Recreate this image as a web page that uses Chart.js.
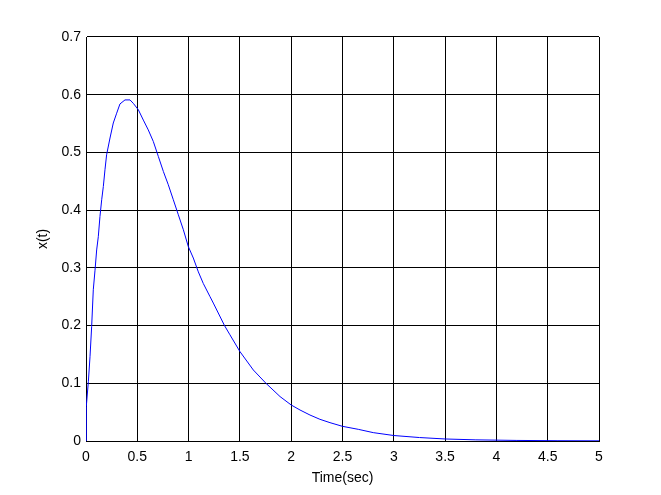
<!DOCTYPE html>
<html>
<head>
<meta charset="utf-8">
<script src="https://cdn.jsdelivr.net/npm/chart.js@4/dist/chart.umd.min.js"></script>
<style>
  html, body { margin: 0; padding: 0; background: #ffffff; }
  #wrap { width: 661px; height: 495px; }
</style>
</head>
<body>
<div id="wrap"><canvas id="c" width="661" height="495"></canvas></div>
<script>
// Data
const timeValues = [0, 0.003, 0.023, 0.039, 0.055, 0.071, 0.088, 0.104, 0.12, 0.136, 0.153, 0.169, 0.185, 0.201,
  0.234, 0.266, 0.299, 0.331, 0.38, 0.429, 0.461, 0.51, 0.559, 0.607, 0.656, 0.705, 0.754, 0.802, 0.851, 0.9,
  0.949, 0.997, 1.046, 1.095, 1.143, 1.209, 1.241, 1.35, 1.403, 1.5, 1.631, 1.754, 1.891, 2.0, 2.086, 2.183, 2.28,
  2.378, 2.5, 2.654, 2.8, 3.0, 3.25, 3.5, 3.8, 4.2, 4.6, 5.0];
const xValues = [0, 0.06, 0.103, 0.146, 0.198, 0.262, 0.296, 0.331, 0.354, 0.389, 0.418, 0.441, 0.47, 0.496,
  0.525, 0.551, 0.568, 0.584, 0.591, 0.591, 0.585, 0.574, 0.556, 0.539, 0.519, 0.493, 0.467, 0.444, 0.418, 0.392,
  0.366, 0.337, 0.317, 0.293, 0.273, 0.25, 0.239, 0.2, 0.184, 0.155, 0.123, 0.1, 0.077, 0.0624, 0.0537, 0.045, 0.0376,
  0.0318, 0.0254, 0.0202, 0.0145, 0.0095, 0.006, 0.0035, 0.002, 0.001, 0.0005, 0.0003];
const xTickLabels = ['0', '0.5', '1', '1.5', '2', '2.5', '3', '3.5', '4', '4.5', '5'];
const yTickLabels = ['0', '0.1', '0.2', '0.3', '0.4', '0.5', '0.6', '0.7'];
const xAxisTitle = 'Time(sec)';
const yAxisTitle = 'x(t)';

const points = timeValues.map((t, i) => ({ x: t, y: xValues[i] }));
const fontFamily = '"Liberation Sans", Arial, Helvetica, sans-serif';

new Chart(document.getElementById('c'), {
  type: 'line',
  data: {
    datasets: [{
      data: points,
      borderColor: '#0000ff',
      borderWidth: 1,
      pointRadius: 0,
      tension: 0,
      fill: false
    }]
  },
  options: {
    responsive: false,
    animation: false,
    devicePixelRatio: 1,
    layout: { padding: { top: 37, right: 62, left: 0, bottom: 0 } },
    plugins: { legend: { display: false }, tooltip: { enabled: false } },
    scales: {
      x: {
        type: 'linear',
        min: 0, max: 5,
        afterFit: (s) => { s.height = 54; },
        afterBuildTicks: (s) => { s.ticks = xTickLabels.map((l, i) => ({ value: i * 0.5 })); },
        ticks: {
          color: '#000', padding: 8, maxRotation: 0, autoSkip: false,
          font: { family: fontFamily, size: 14 },
          callback: (v, i) => xTickLabels[i]
        },
        grid: { color: '#000', lineWidth: 1, drawTicks: false },
        border: { color: '#000', width: 1 },
        title: { display: true, text: xAxisTitle, color: '#000', font: { family: fontFamily, size: 14 }, padding: { top: 0, bottom: 8.6 } }
      },
      y: {
        type: 'linear',
        min: 0, max: 0.7,
        afterFit: (s) => { s.width = 86; },
        afterBuildTicks: (s) => { s.ticks = yTickLabels.map((l, i) => ({ value: i * 0.1 })); },
        ticks: {
          color: '#000', padding: 5, autoSkip: false,
          font: { family: fontFamily, size: 14 },
          callback: (v, i) => yTickLabels[i]
        },
        grid: { color: '#000', lineWidth: 1, drawTicks: false },
        border: { color: '#000', width: 1 },
        title: { display: true, text: yAxisTitle, color: '#000', font: { family: fontFamily, size: 14 }, padding: { top: 34.6, bottom: 0 } }
      }
    }
  }
});
</script>
</body>
</html>
